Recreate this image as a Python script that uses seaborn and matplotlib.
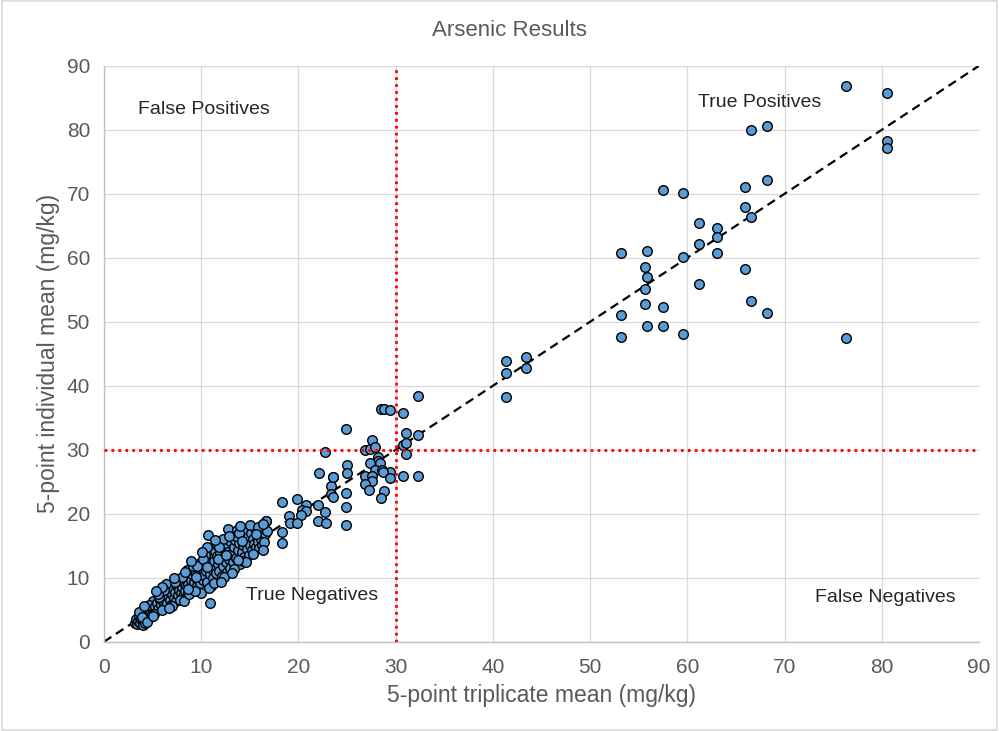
import matplotlib
matplotlib.use("Agg")
import matplotlib.pyplot as plt
import numpy as np
import pandas as pd
import seaborn as sns
from matplotlib.patches import Rectangle

# ---- data (triplicate mean, individual mean), mg/kg ----
cluster_x = [
    3.2, 3.3, 3.4, 3.5, 3.6, 3.7, 3.8, 3.9, 4.0, 4.0, 4.1, 4.2, 4.3, 4.4, 4.5, 4.6, 4.7, 4.8, 4.9, 5.0,
    5.1, 3.6, 4.2, 4.6, 3.9,
    5.3, 5.5, 5.6, 5.8, 5.9, 6.0, 6.1, 6.2, 6.3, 6.4, 6.5, 6.6, 6.7, 6.8, 6.9, 7.0, 7.1, 7.2, 7.3, 7.4,
    7.5, 7.6, 7.7, 7.8, 7.9, 8.0, 5.7, 6.4, 7.0, 6.2,
    8.1, 8.2, 8.3, 8.4, 8.5, 8.6, 8.7, 8.8, 8.9, 9.0, 9.1, 9.2, 9.3, 9.4, 9.5, 9.6, 9.7, 9.8, 9.9, 10.0,
    10.0, 8.5, 9.2, 9.9, 8.0,
    10.1, 10.2, 10.3, 10.4, 10.5, 10.6, 10.7, 10.8, 10.9, 10.9, 11.0, 11.1, 11.2, 11.3, 11.4, 11.5, 11.6,
    11.7, 11.8, 11.9, 12.0, 12.1, 12.2, 12.3, 12.4, 12.5, 12.6, 12.7, 12.8, 12.8, 12.9, 13.0, 13.0, 10.4,
    11.0, 11.6, 12.2, 10.6,
    13.1, 13.2, 13.3, 13.4, 13.5, 13.6, 13.7, 13.8, 13.9, 14.0, 14.1, 14.2, 14.3, 14.4, 14.5, 14.6, 14.7,
    14.8, 14.9, 15.0, 15.1, 15.2, 15.3, 15.4, 15.5, 15.6, 15.7, 15.8, 15.9, 16.0, 16.2, 16.3, 16.4, 16.6,
    16.7, 16.5, 14.3, 13.6, 15.0, 16.0,
    4.4, 5.2, 5.6, 6.0, 6.7, 7.3, 7.8, 8.2, 8.8, 9.4, 9.6, 10.2, 10.8, 11.3, 11.8, 12.4, 12.9, 13.4, 13.9,
    14.6, 15.3, 15.8, 16.4, 16.8, 9.0, 10.1, 11.4, 12.0, 13.2, 14.0, 8.3, 7.2, 6.0, 5.0, 4.1, 5.4, 11.7,
    12.6, 13.8, 15.6, 14.2, 10.6, 9.5, 8.7,
]
cluster_y = [
    3.0, 3.6, 2.8, 3.3, 4.1, 3.0, 3.6, 4.4, 3.2, 2.7, 3.9, 4.6, 3.4, 5.0, 4.2, 3.7, 4.8, 5.4, 4.4, 6.3,
    5.0, 4.7, 2.9, 5.7, 3.9,
    5.6, 6.1, 5.2, 6.6, 5.8, 7.1, 6.3, 5.5, 6.9, 7.6, 6.0, 7.2, 8.0, 6.6, 5.7, 7.4, 8.3, 6.8, 7.8, 6.3,
    8.7, 7.3, 8.1, 9.1, 7.6, 8.5, 7.0, 9.1, 5.6, 8.1,
    7.1, 9.2, 8.0, 8.8, 9.8, 7.6, 9.0, 10.2, 8.4, 9.6, 10.6, 8.1, 9.3, 10.9, 9.9, 8.7, 10.4, 11.3, 9.2, 10.8,
    7.6, 11.2, 11.8, 12.3, 10.1,
    11.6, 9.7, 10.4, 12.4, 11.1, 9.4, 16.7, 12.0, 6.1, 10.6, 13.0, 11.4, 9.9, 12.6, 14.2, 10.8, 13.4,
    12.1, 11.0, 13.9, 12.7, 10.3, 14.6, 11.8, 13.2, 15.3, 12.4, 10.9, 17.6, 14.0, 12.9, 15.7, 11.5, 13.6,
    8.7, 15.2, 16.0, 14.8,
    13.7, 16.3, 12.4, 14.8, 15.9, 13.1, 17.4, 14.3, 15.4, 12.2, 16.7, 14.0, 15.1, 13.2, 17.2, 15.7, 14.5,
    16.4, 13.6, 15.2, 17.0, 14.3, 16.0, 15.3, 17.8, 14.8, 16.5, 15.6, 17.4, 14.7, 16.1, 15.2, 18.4, 16.9,
    18.8, 15.6, 12.6, 16.5, 18.2, 17.6,
    3.1, 4.3, 7.4, 4.9, 5.3, 9.4, 6.6, 6.4, 7.4, 7.9, 11.9, 12.9, 8.4, 9.2, 14.8, 10.1, 16.6, 11.3, 17.0,
    12.4, 13.7, 18.0, 14.3, 17.3, 12.6, 14.1, 15.9, 9.4, 10.8, 18.1, 10.9, 9.9, 8.5, 4.0, 5.6, 7.9, 12.9,
    13.6, 12.8, 16.8, 15.7, 11.7, 10.2, 8.2,
]
mid_x = [
    18.3, 19.9, 20.8, 22.0, 22.7, 22.0, 22.8, 20.4, 20.8, 20.3, 19.0, 19.1, 19.9, 18.3, 18.3, 23.4, 23.4,
    23.6, 22.1, 23.6, 22.7, 24.9, 25.0, 25.0, 24.9, 24.9, 24.9, 28.5, 28.8, 29.4, 30.8, 32.3, 31.1, 32.3,
    27.6, 30.8, 31.1, 26.9, 27.4, 27.9, 31.1, 28.2, 28.2, 27.4, 28.4, 27.9, 28.6, 29.4, 26.9, 27.6, 28.7,
    29.4, 30.8, 32.3, 27.6, 26.9, 27.3, 28.8, 28.5, 23.6, 16.7, 16.4,
]
mid_y = [
    21.9, 22.3, 21.4, 21.3, 20.3, 18.8, 18.5, 20.6, 20.4, 19.8, 19.6, 18.5, 18.5, 17.1, 15.5, 24.4, 23.1,
    22.7, 26.4, 25.8, 29.6, 33.2, 27.7, 26.4, 23.2, 21.1, 18.3, 36.4, 36.4, 36.2, 35.7, 38.4, 32.7, 32.3,
    31.5, 30.8, 31.1, 29.9, 30.2, 30.4, 29.4, 28.9, 28.3, 28.0, 28.0, 26.9, 26.9, 26.5, 25.9, 25.9, 26.6,
    25.6, 25.9, 25.9, 25.2, 24.6, 23.7, 23.5, 22.5, 25.7, 18.8, 18.4,
]
high_x = [
    41.4, 41.4, 41.4, 43.4, 43.4,
    76.3, 80.5, 66.5, 68.2, 80.5, 80.5, 57.5, 59.6, 65.9, 68.2, 65.9, 66.5, 61.2, 63.1, 63.1, 61.2, 63.1,
    59.6, 53.2, 55.9, 55.6, 55.9, 55.6, 61.2, 65.9, 55.6, 57.5, 53.2, 66.5, 68.2, 55.9, 57.5, 59.6, 53.2,
    76.3,
]
high_y = [
    43.8, 42.0, 38.3, 44.5, 42.8,
    86.9, 85.8, 80.0, 80.6, 78.2, 77.1, 70.6, 70.2, 71.0, 72.2, 68.0, 66.4, 65.5, 64.7, 63.3, 62.2, 60.8,
    60.1, 60.7, 61.1, 58.5, 57.0, 55.2, 55.9, 58.2, 52.8, 52.3, 51.0, 53.2, 51.3, 49.3, 49.4, 48.1, 47.6,
    47.4,
]
threshold = 30
quadrant_labels = ["False Positives", "True Positives", "True Negatives", "False Negatives"]

df = pd.DataFrame({
    "triplicate": cluster_x + mid_x + high_x,
    "individual": cluster_y + mid_y + high_y,
})

sns.set_theme(style="white")
plt.rcParams["font.family"] = ["Liberation Sans", "DejaVu Sans"]
grey = "#595959"

fig = plt.figure(figsize=(9.99, 7.31), dpi=100)
ax = fig.add_axes([0.104, 0.122, 0.876, 0.788])

# 1:1 reference line
ax.plot([0, 90], [0, 90], color="black", lw=1.6, ls=(0, (4, 2.5)), zorder=2)

sns.scatterplot(data=df, x="triplicate", y="individual", ax=ax, s=48,
                color="#5B9BD5", edgecolor="black", linewidth=1.0, zorder=3)

ax.axvline(threshold, color="red", lw=2, ls=(0, (1, 1.5)), zorder=4)
ax.axhline(threshold, color="red", lw=2, ls=(0, (1, 1.5)), zorder=4)

ax.set_xlim(0, 90)
ax.set_ylim(0, 90)
ax.set_xticks(np.arange(0, 91, 10))
ax.set_yticks(np.arange(0, 91, 10))
ax.grid(True, color="#D9D9D9", lw=0.9)
ax.set_axisbelow(True)
for side in ["top", "right"]:
    ax.spines[side].set_visible(False)
for side in ["left", "bottom"]:
    ax.spines[side].set_color("#BFBFBF")
    ax.spines[side].set_linewidth(1.0)
ax.tick_params(axis="x", length=0, labelsize=15, labelcolor=grey, pad=12)
ax.tick_params(axis="y", length=0, labelsize=15, labelcolor=grey, pad=10)

ax.set_xlabel("5-point triplicate mean (mg/kg)", fontsize=16.5, color=grey, labelpad=5)
ax.set_ylabel("5-point individual mean (mg/kg)", fontsize=16.5, color=grey, labelpad=5)
fig.text(0.51, 0.958, "Arsenic Results", fontsize=16, color=grey, ha="center", va="center")

ax.text(10.3, 83.1, quadrant_labels[0], fontsize=14, ha="center", va="center")
ax.text(67.4, 84.3, quadrant_labels[1], fontsize=14, ha="center", va="center")
ax.text(21.4, 7.2, quadrant_labels[2], fontsize=14, ha="center", va="center")
ax.text(80.4, 6.9, quadrant_labels[3], fontsize=14, ha="center", va="center")

fig.patches.append(Rectangle((0.002, 0.002), 0.996, 0.996, transform=fig.transFigure,
                             fill=False, edgecolor="#D9D9D9", lw=1.2))

fig.savefig("out.png", dpi=100)
